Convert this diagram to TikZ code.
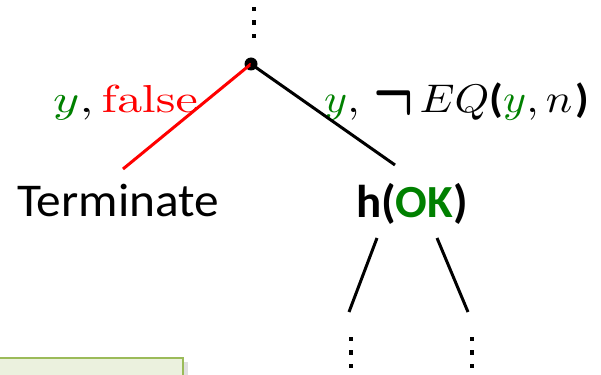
\RequirePackage{fix-cm}
\documentclass[tikz,border=0pt]{standalone}
\usepackage{amsmath}
\usepackage{graphicx}
\usepackage[no-math]{fontspec}
\setmainfont{Carlito}
\usepackage{xcolor}
\definecolor{okgreen}{HTML}{008000}
\definecolor{noteedge}{HTML}{9BBB59}
\definecolor{notefill}{HTML}{EBF1DE}
\usetikzlibrary{calc}

\newcommand{\bpar}[1]{\text{\bfseries #1}}
\newcommand{\bigneg}{\raisebox{-1.8pt}{\scalebox{1.2}[2]{$\boldsymbol{\neg}$}}}

\begin{document}
\begin{tikzpicture}[x=1pt,y=-1pt,
      edge/.style={line width=3pt},
      leaf/.style={font=\fontsize{47}{56}\selectfont, inner sep=0pt, anchor=base},
      lbl/.style={font=\fontsize{10}{12}\selectfont, inner sep=0pt, anchor=base west},
      sq/.style={fill=black, minimum size=4.5pt, inner sep=0pt}
    ]
    \clip (0,0) rectangle (601,374);
    % tree nodes
    \node[circle, fill=black, minimum size=13pt, inner sep=0pt] (root) at (251,64) {};
    \node[leaf] (term) at (118,216) {\scalebox{1.05}[1]{Terminate}};
    \node[leaf, font=\fontsize{46}{55}\selectfont\bfseries] (ok) at (412,217) {\scalebox{1.02}[1]{h(\textcolor{okgreen}{OK})}};
    \coordinate (term-end) at (123,169);
    \coordinate (ok-end) at (395,165);
    \coordinate (ok-l) at (377,238);
    \coordinate (ok-r) at (437,238);
    \coordinate (ll-end) at (349,312);
    \coordinate (rr-end) at (468,312);
    % edge labels
    \node[lbl] (flbl) at (53,113) {\scalebox{5.0}[3.9]{$\textcolor{okgreen}{y},\textcolor{red}{\mathrm{false}}$}};
    \node[lbl] (tlbl) at (324,113) {\scalebox{4.4}[4.0]{$\textcolor{okgreen}{y},\hspace{1.5pt}\bigneg\hspace{1.3pt}EQ\bpar{(}\textcolor{okgreen}{y},n\hspace{0.8pt}\bpar{)}$}};
    % edges
    \draw[edge, red] (root.center) -- (term-end);
    \draw[edge] (root.center) -- (ok-end);
    \draw[edge] (ok-l) -- (ll-end);
    \draw[edge] (ok-r) -- (rr-end);
    % continuation dots
    \foreach \x/\y in {254/22.5, 351/352.5, 472/352.5}
      \foreach \dy in {-13.5,0,13.5}
        \node[sq] at (\x,\y+\dy) {};
    % note box
    \fill[black!12] (4,362) rectangle (188,380);
    \draw[noteedge, fill=notefill, line width=2pt] (-2,358) rectangle (183,380);
  \end{tikzpicture}
\end{document}
